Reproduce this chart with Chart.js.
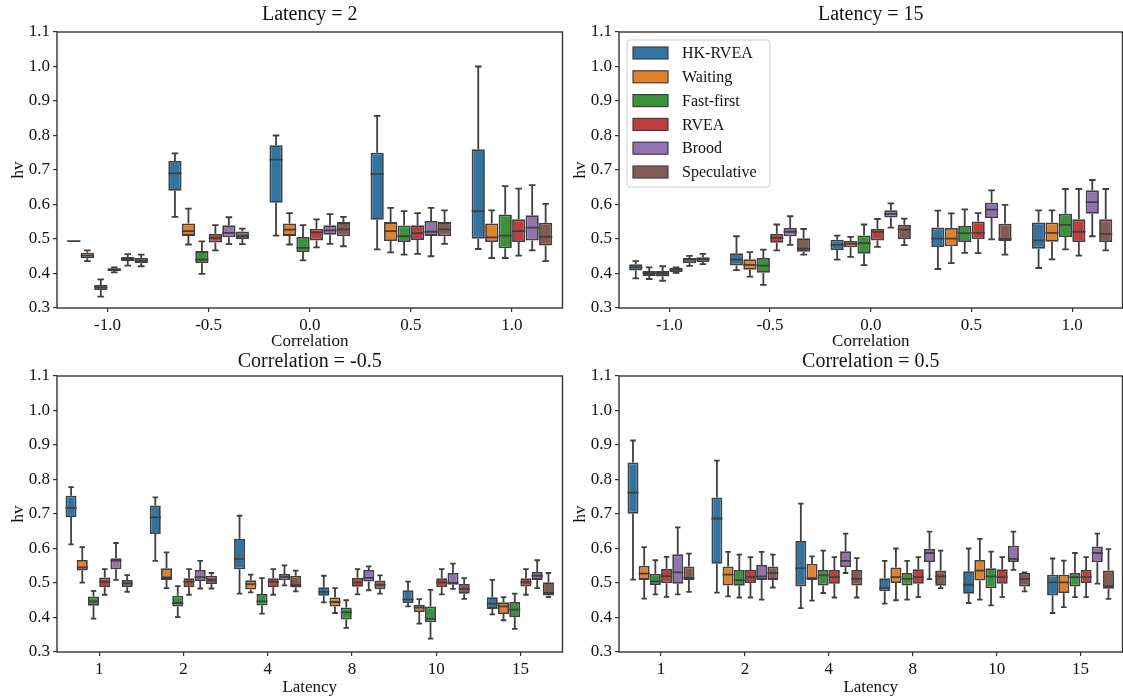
<!DOCTYPE html>
<html>
<head>
<meta charset="utf-8">
<script src="https://cdn.jsdelivr.net/npm/chart.js@4/dist/chart.umd.min.js"></script>
<style>
  body { margin: 0; background: #fff; }
  #wrap { position: relative; width: 1123px; height: 700px; }
  canvas { position: absolute; }
</style>
</head>
<body>
<div id="wrap">
  <canvas id="c1" width="564" height="352" style="left:0;top:0"></canvas>
  <canvas id="c2" width="561" height="352" style="left:562px;top:0"></canvas>
  <canvas id="c3" width="564" height="350" style="left:0;top:350px"></canvas>
  <canvas id="c4" width="561" height="350" style="left:562px;top:350px"></canvas>
</div>
<script>
// categories and series
const correlations = ["-1.0", "-0.5", "0.0", "0.5", "1.0"];
const latencies = ["1", "2", "4", "8", "10", "15"];
const methods = ["HK-RVEA", "Waiting", "Fast-first", "RVEA", "Brood", "Speculative"];
const yTicks = [0.3, 1.1, 0.1]; // min, max, step

// each box: [min, q1, median, q3, max], one row per method

// Latency = 2, by correlation
const latency2 = [
  [[0.494, 0.4938, 0.494, 0.4942, 0.494], [0.564, 0.640, 0.690, 0.726, 0.748], [0.510, 0.605, 0.730, 0.772, 0.800], [0.470, 0.556, 0.688, 0.750, 0.857], [0.471, 0.501, 0.581, 0.760, 1.000]],
  [[0.436, 0.444, 0.452, 0.460, 0.467], [0.484, 0.509, 0.523, 0.545, 0.588], [0.484, 0.509, 0.527, 0.545, 0.575], [0.461, 0.494, 0.523, 0.549, 0.590], [0.445, 0.491, 0.505, 0.545, 0.583]],
  [[0.333, 0.352, 0.360, 0.367, 0.383], [0.399, 0.430, 0.440, 0.465, 0.493], [0.438, 0.462, 0.474, 0.506, 0.540], [0.455, 0.491, 0.508, 0.539, 0.581], [0.445, 0.473, 0.510, 0.571, 0.653]],
  [[0.403, 0.407, 0.411, 0.415, 0.418], [0.467, 0.490, 0.503, 0.515, 0.540], [0.476, 0.496, 0.519, 0.530, 0.557], [0.457, 0.497, 0.517, 0.540, 0.575], [0.452, 0.491, 0.523, 0.557, 0.646]],
  [[0.423, 0.436, 0.442, 0.448, 0.456], [0.485, 0.505, 0.518, 0.540, 0.563], [0.486, 0.512, 0.525, 0.540, 0.572], [0.450, 0.509, 0.521, 0.552, 0.590], [0.467, 0.496, 0.533, 0.569, 0.656]],
  [[0.421, 0.430, 0.437, 0.445, 0.455], [0.485, 0.500, 0.508, 0.522, 0.530], [0.479, 0.508, 0.528, 0.549, 0.564], [0.486, 0.508, 0.528, 0.549, 0.583], [0.436, 0.481, 0.506, 0.547, 0.602]]
];

// Latency = 15, by correlation
const latency15 = [
  [[0.386, 0.409, 0.418, 0.427, 0.436], [0.410, 0.423, 0.440, 0.459, 0.508], [0.440, 0.468, 0.483, 0.498, 0.510], [0.413, 0.477, 0.501, 0.533, 0.582], [0.416, 0.472, 0.496, 0.548, 0.583]],
  [[0.384, 0.393, 0.401, 0.407, 0.418], [0.391, 0.411, 0.425, 0.441, 0.462], [0.448, 0.476, 0.486, 0.494, 0.506], [0.430, 0.479, 0.501, 0.532, 0.574], [0.441, 0.492, 0.518, 0.548, 0.583]],
  [[0.379, 0.391, 0.399, 0.407, 0.421], [0.367, 0.402, 0.423, 0.445, 0.469], [0.424, 0.457, 0.488, 0.510, 0.542], [0.460, 0.491, 0.517, 0.538, 0.586], [0.470, 0.506, 0.541, 0.573, 0.645]],
  [[0.402, 0.404, 0.411, 0.416, 0.418], [0.467, 0.489, 0.503, 0.515, 0.542], [0.477, 0.496, 0.521, 0.530, 0.558], [0.459, 0.499, 0.518, 0.551, 0.575], [0.452, 0.491, 0.521, 0.557, 0.645]],
  [[0.422, 0.430, 0.440, 0.445, 0.451], [0.483, 0.508, 0.521, 0.532, 0.566], [0.533, 0.562, 0.573, 0.583, 0.603], [0.499, 0.561, 0.585, 0.605, 0.641], [0.508, 0.573, 0.607, 0.641, 0.671]],
  [[0.427, 0.433, 0.442, 0.447, 0.457], [0.455, 0.463, 0.472, 0.502, 0.529], [0.482, 0.500, 0.527, 0.541, 0.559], [0.455, 0.494, 0.500, 0.544, 0.599], [0.467, 0.491, 0.515, 0.557, 0.645]]
];

// Correlation = -0.5, by latency
const corrNeg05 = [
  [[0.612, 0.691, 0.718, 0.753, 0.778], [0.564, 0.642, 0.690, 0.725, 0.748], [0.469, 0.540, 0.570, 0.628, 0.695], [0.444, 0.463, 0.474, 0.488, 0.521], [0.432, 0.442, 0.452, 0.479, 0.504], [0.409, 0.425, 0.440, 0.459, 0.509]],
  [[0.501, 0.536, 0.545, 0.567, 0.604], [0.485, 0.509, 0.516, 0.543, 0.589], [0.473, 0.481, 0.497, 0.508, 0.524], [0.413, 0.432, 0.445, 0.458, 0.485], [0.382, 0.416, 0.429, 0.437, 0.453], [0.392, 0.410, 0.432, 0.444, 0.459]],
  [[0.397, 0.434, 0.447, 0.461, 0.477], [0.401, 0.432, 0.442, 0.463, 0.491], [0.411, 0.435, 0.447, 0.468, 0.514], [0.370, 0.394, 0.415, 0.429, 0.450], [0.339, 0.386, 0.396, 0.432, 0.480], [0.367, 0.401, 0.423, 0.445, 0.469]],
  [[0.466, 0.488, 0.503, 0.516, 0.540], [0.466, 0.488, 0.503, 0.514, 0.540], [0.466, 0.488, 0.503, 0.514, 0.540], [0.467, 0.489, 0.502, 0.515, 0.540], [0.467, 0.488, 0.502, 0.514, 0.540], [0.466, 0.490, 0.502, 0.514, 0.540]],
  [[0.509, 0.540, 0.565, 0.572, 0.616], [0.484, 0.506, 0.517, 0.538, 0.564], [0.493, 0.508, 0.517, 0.526, 0.551], [0.479, 0.504, 0.515, 0.538, 0.548], [0.483, 0.495, 0.500, 0.529, 0.556], [0.485, 0.509, 0.521, 0.532, 0.566]],
  [[0.474, 0.488, 0.499, 0.509, 0.523], [0.484, 0.497, 0.508, 0.521, 0.529], [0.476, 0.487, 0.494, 0.521, 0.536], [0.469, 0.482, 0.495, 0.507, 0.522], [0.454, 0.469, 0.483, 0.497, 0.514], [0.459, 0.464, 0.471, 0.502, 0.529]]
];

// Correlation = 0.5, by latency
const corrPos05 = [
  [[0.510, 0.701, 0.762, 0.849, 0.913], [0.472, 0.556, 0.687, 0.748, 0.855], [0.427, 0.490, 0.543, 0.622, 0.730], [0.440, 0.476, 0.485, 0.514, 0.564], [0.442, 0.469, 0.495, 0.534, 0.600], [0.413, 0.464, 0.502, 0.524, 0.571]],
  [[0.455, 0.509, 0.527, 0.550, 0.604], [0.461, 0.493, 0.524, 0.548, 0.590], [0.449, 0.509, 0.514, 0.556, 0.577], [0.450, 0.500, 0.517, 0.545, 0.600], [0.452, 0.507, 0.536, 0.567, 0.628], [0.430, 0.471, 0.502, 0.524, 0.565]],
  [[0.467, 0.494, 0.505, 0.527, 0.566], [0.458, 0.492, 0.508, 0.538, 0.582], [0.471, 0.493, 0.522, 0.538, 0.594], [0.452, 0.493, 0.512, 0.529, 0.564], [0.435, 0.485, 0.519, 0.543, 0.591], [0.459, 0.490, 0.517, 0.529, 0.587]],
  [[0.460, 0.499, 0.520, 0.541, 0.576], [0.458, 0.500, 0.517, 0.538, 0.575], [0.458, 0.498, 0.517, 0.538, 0.575], [0.459, 0.498, 0.517, 0.540, 0.575], [0.459, 0.498, 0.517, 0.540, 0.575], [0.459, 0.500, 0.517, 0.538, 0.575]],
  [[0.467, 0.498, 0.531, 0.583, 0.661], [0.452, 0.509, 0.519, 0.552, 0.590], [0.529, 0.546, 0.564, 0.592, 0.643], [0.511, 0.561, 0.587, 0.599, 0.649], [0.538, 0.561, 0.570, 0.608, 0.649], [0.498, 0.560, 0.587, 0.606, 0.643]],
  [[0.474, 0.509, 0.515, 0.548, 0.585], [0.487, 0.509, 0.529, 0.548, 0.582], [0.458, 0.493, 0.512, 0.538, 0.572], [0.485, 0.492, 0.519, 0.536, 0.594], [0.476, 0.490, 0.512, 0.529, 0.531], [0.454, 0.483, 0.490, 0.536, 0.598]]
];

const colors = ["#3274a1", "#e1812c", "#3a923a", "#c03d3e", "#9372b2", "#845b53"];
const EDGE = "#3f3f3f";
const LINE_W = 1.8;
const FONT = '"Liberation Serif", "Times New Roman", serif';

// whiskers, caps and medians on top of the floating bars
const boxPlugin = {
  id: "boxWhiskers",
  afterDatasetsDraw(chart) {
    const ctx = chart.ctx;
    const y = chart.scales.y;
    chart.data.datasets.forEach((ds, i) => {
      const meta = chart.getDatasetMeta(i);
      meta.data.forEach((bar, j) => {
        const [mn, q1, med, q3, mx] = ds.stats[j];
        const half = bar.width / 2;
        const cap = bar.width / 4;
        const yMin = y.getPixelForValue(mn), yMax = y.getPixelForValue(mx);
        ctx.save();
        ctx.strokeStyle = EDGE;
        ctx.lineWidth = LINE_W;
        ctx.beginPath();
        ctx.moveTo(bar.x, y.getPixelForValue(q3));
        ctx.lineTo(bar.x, yMax);
        ctx.moveTo(bar.x - cap, yMax);
        ctx.lineTo(bar.x + cap, yMax);
        ctx.moveTo(bar.x, y.getPixelForValue(q1));
        ctx.lineTo(bar.x, yMin);
        ctx.moveTo(bar.x - cap, yMin);
        ctx.lineTo(bar.x + cap, yMin);
        const ym = y.getPixelForValue(med);
        ctx.moveTo(bar.x - half, ym);
        ctx.lineTo(bar.x + half, ym);
        ctx.stroke();
        ctx.restore();
      });
    });
  }
};

// full frame around the plot area
const framePlugin = {
  id: "frame",
  afterDraw(chart) {
    const a = chart.chartArea;
    const ctx = chart.ctx;
    ctx.save();
    ctx.strokeStyle = "#333";
    ctx.lineWidth = 1.4;
    ctx.strokeRect(a.left, a.top, a.right - a.left, a.bottom - a.top);
    ctx.restore();
  }
};

// legend box drawn inside the top-right panel
const boxLegend = {
  id: "boxLegend",
  afterDraw(chart, args, opts) {
    if (!opts.show) return;
    const ctx = chart.ctx;
    const a = chart.chartArea;
    const x0 = a.left + 8, y0 = a.top + 8, w = 143, h = 147;
    ctx.save();
    ctx.fillStyle = "rgba(255,255,255,0.85)";
    ctx.strokeStyle = "#cccccc";
    ctx.lineWidth = 1;
    ctx.beginPath();
    ctx.roundRect(x0, y0, w, h, 3);
    ctx.fill();
    ctx.stroke();
    ctx.font = "16px " + FONT;
    ctx.textBaseline = "middle";
    chart.data.datasets.forEach((ds, i) => {
      const cy = y0 + 13 + i * 23.8;
      ctx.fillStyle = ds.backgroundColor;
      ctx.fillRect(x0 + 6, cy - 6, 35, 12);
      ctx.strokeStyle = EDGE;
      ctx.lineWidth = 1.2;
      ctx.strokeRect(x0 + 6, cy - 6, 35, 12);
      ctx.fillStyle = "#111";
      ctx.fillText(ds.label, x0 + 55, cy + 1);
    });
    ctx.restore();
  }
};

function makeChart(id, labels, boxes, title, xTitle, opts) {
  const ctx = document.getElementById(id).getContext("2d");
  return new Chart(ctx, {
    type: "bar",
    data: {
      labels: labels,
      datasets: methods.map((m, i) => ({
        label: m,
        data: boxes[i].map((b) => [b[1], b[3]]),
        stats: boxes[i],
        backgroundColor: colors[i],
        borderColor: EDGE,
        borderWidth: LINE_W,
        borderSkipped: false,
        categoryPercentage: 0.8,
        barPercentage: 0.98,
      })),
    },
    options: {
      responsive: false,
      animation: false,
      layout: { padding: { left: 0, right: opts.padRight, top: 0, bottom: 0 } },
      plugins: {
        legend: { display: false },
        tooltip: { enabled: false },
        title: {
          display: true,
          text: title,
          fullSize: false,
          color: "#111",
          font: { family: FONT, size: 20, weight: "normal", lineHeight: 1.2 },
          padding: { top: opts.titleTop, bottom: opts.titleBottom },
        },
        boxLegend: { show: !!opts.legend },
      },
      scales: {
        x: {
          type: "category",
          offset: true,
          border: { display: false },
          grid: { display: true, offset: false, drawOnChartArea: false, drawTicks: true, tickLength: 4, color: "#333", lineWidth: 1.2 },
          ticks: { color: "#111", padding: 3, font: { family: FONT, size: 17 } },
          title: { display: true, text: xTitle, color: "#111", font: { family: FONT, size: 17, lineHeight: 1.2 }, padding: { top: 0, bottom: opts.xTitlePad } },
          afterFit: (s) => { s.height = opts.xHeight; },
        },
        y: {
          min: yTicks[0],
          max: yTicks[1],
          border: { display: false },
          grid: { display: true, drawOnChartArea: false, drawTicks: true, tickLength: 4, color: "#333", lineWidth: 1.2 },
          ticks: {
            stepSize: yTicks[2],
            color: "#111",
            padding: 3,
            font: { family: FONT, size: 17 },
            callback: (v) => Number(v).toFixed(1),
          },
          title: { display: true, text: "hv", color: "#111", font: { family: FONT, size: 17, lineHeight: 1.2 }, padding: { top: 8, bottom: 0 } },
          afterFit: (s) => { s.width = 57; },
        },
      },
    },
    plugins: [boxPlugin, framePlugin, boxLegend],
  });
}

document.addEventListener("DOMContentLoaded", function () {
  const top = { titleTop: 3, titleBottom: 5, xHeight: 44, xTitlePad: 0 };
  const bottom = { titleTop: 0, titleBottom: 2, xHeight: 48, xTitlePad: 2 };
  makeChart("c1", correlations, latency2, "Latency = 2", "Correlation", { ...top, padRight: 1.5 });
  makeChart("c2", correlations, latency15, "Latency = 15", "Correlation", { ...top, padRight: 0.5, legend: true });
  makeChart("c3", latencies, corrNeg05, "Correlation = -0.5", "Latency", { ...bottom, padRight: 1.5 });
  makeChart("c4", latencies, corrPos05, "Correlation = 0.5", "Latency", { ...bottom, padRight: 0.5 });
});
</script>
</body>
</html>
